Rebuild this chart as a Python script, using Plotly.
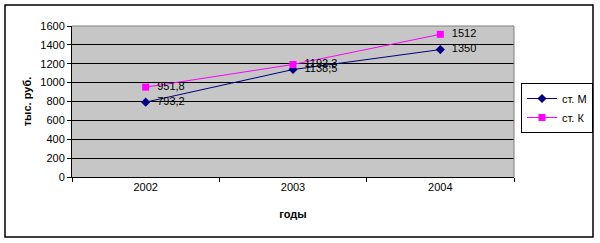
import plotly.graph_objects as go

years = ["2002", "2003", "2004"]
series_m = [793.2, 1138.5, 1350]
series_k = [951.8, 1192.3, 1512]
name_m = "ст. М"
name_k = "ст. К"

def fmt(v):
    s = ("%g" % v)
    return "  " + s.replace(".", ",")

W, H = 600, 243
L, R, T, B = 72, 86, 26, 66
pw, ph = W - L - R, H - T - B

def px2x(x):
    return (x - L) / pw

def px2y(y):
    return (H - B - y) / ph

FF = "Liberation Sans, Arial"
font = dict(family=FF, size=11, color="black")

fig = go.Figure()
fig.add_trace(go.Scatter(
    x=years, y=series_m, name=name_m, mode="lines+markers+text",
    line=dict(color="#000080", width=1),
    marker=dict(symbol="diamond", size=7, color="#000080"),
    text=[fmt(v) for v in series_m], textposition="middle right",
    textfont=dict(family=FF, size=11, color="black"),
))
fig.add_trace(go.Scatter(
    x=years, y=series_k, name=name_k, mode="lines+markers+text",
    line=dict(color="#FF00FF", width=1),
    marker=dict(symbol="square", size=7, color="#FF00FF"),
    text=[fmt(v) for v in series_k], textposition="middle right",
    textfont=dict(family=FF, size=11, color="black"),
))

fig.update_layout(
    width=W, height=H,
    margin=dict(l=L, r=R, t=T, b=B, autoexpand=False),
    paper_bgcolor="white",
    plot_bgcolor="#c6c6c6",
    font=font,
    showlegend=True,
    legend=dict(
        xref="container", yref="container",
        x=521 / W, y=1 - 83 / H, xanchor="left", yanchor="top",
        bordercolor="black", borderwidth=1, bgcolor="white",
        font=dict(family=FF, size=11, color="black"),
        itemwidth=30, tracegroupgap=0,
    ),
    xaxis=dict(
        type="category", range=[-0.5, 2.5],
        showline=True, linecolor="black", linewidth=1,
        ticks="outside", ticklen=4, tickcolor="black", tickson="boundaries",
        showgrid=False, zeroline=False,
        tickfont=dict(family=FF, size=11, color="black"),
        title=dict(text="<b>годы</b>", standoff=18,
                   font=dict(family=FF, size=11, color="black")),
    ),
    yaxis=dict(
        range=[0, 1600], dtick=200,
        showline=True, linecolor="black", linewidth=1,
        ticks="outside", ticklen=4, tickcolor="black",
        showgrid=True, gridcolor="black", gridwidth=1,
        zeroline=False,
        tickfont=dict(family=FF, size=11, color="black"),
        title=dict(text="<b>тыс. руб.</b>", standoff=6,
                   font=dict(family=FF, size=11, color="black")),
    ),
    shapes=[
        dict(type="rect", xref="paper", yref="paper",
             x0=px2x(5), x1=px2x(593), y0=px2y(237), y1=px2y(5),
             line=dict(color="black", width=1.5), fillcolor="rgba(0,0,0,0)",
             layer="below"),
        dict(type="line", xref="paper", yref="paper",
             x0=1, x1=1, y0=0, y1=1, line=dict(color="#808080", width=1)),
        dict(type="line", xref="paper", yref="paper",
             x0=0, x1=1, y0=1, y1=1, line=dict(color="#808080", width=1)),
    ],
)

fig.write_html("out.html")
